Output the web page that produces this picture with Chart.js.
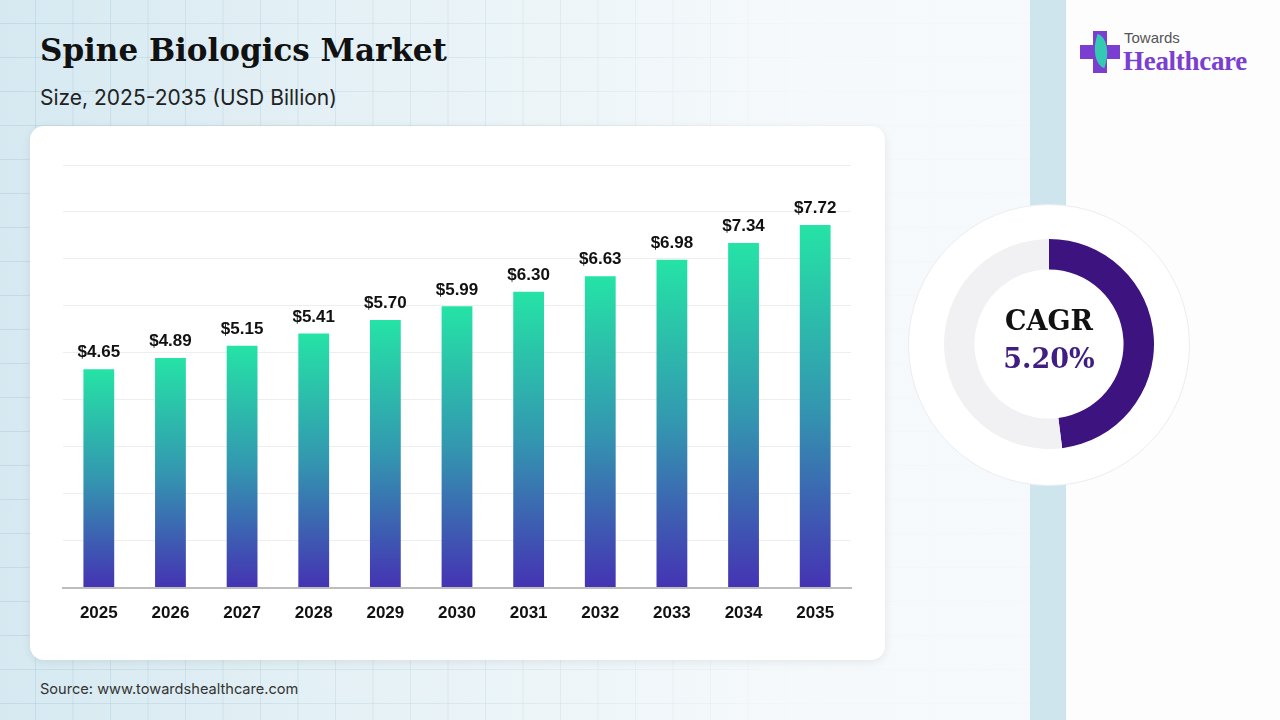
<!DOCTYPE html>
<html>
<head>
<meta charset="utf-8">
<script src="https://cdn.jsdelivr.net/npm/chart.js@4.4.1/dist/chart.umd.min.js"></script>
<style>
  html, body { margin: 0; padding: 0; }
  body {
    width: 1280px; height: 720px; overflow: hidden; position: relative;
    background: linear-gradient(90deg, #d6e9f1 0%, #e9f3f7 35%, #f5f9fb 60%, #f7fafc 100%);
    font-family: "Inter", "Liberation Sans", sans-serif;
  }
  .grid {
    position: absolute; left: 0; top: 0; width: 1030px; height: 720px;
    background-image:
      linear-gradient(90deg, rgba(160,195,212,0.35) 1px, transparent 1px),
      linear-gradient(0deg, rgba(160,195,212,0.35) 1px, transparent 1px);
    background-size: 37.5px 34px;
    background-position: 35px 24px;
    -webkit-mask-image: linear-gradient(90deg, #000 0%, rgba(0,0,0,0.6) 50%, rgba(0,0,0,0.05) 80%);
  }
  .strip { position: absolute; left: 1030px; top: 0; width: 36px; height: 720px; background: #cfe5ed; }
  .side { position: absolute; left: 1066px; top: 0; width: 214px; height: 720px; background: #fdfdfe; }
  h1 {
    position: absolute; left: 40px; top: 32px; margin: 0;
    font-family: "DejaVu Serif", serif; font-weight: bold; font-size: 31px; color: #111;
  }
  .sub { position: absolute; left: 40px; top: 85px; font-size: 21px; color: #222; }
  .card {
    position: absolute; left: 30px; top: 126px; width: 855px; height: 534px;
    background: #fff; border-radius: 14px; box-shadow: 0 2px 10px rgba(0,0,0,0.08);
  }
  #bars { position: absolute; left: 0; top: 0; }
  .source { position: absolute; left: 40px; top: 680px; font-size: 14.6px; color: #333; }
  .ring {
    position: absolute; left: 908px; top: 204px; width: 280px; height: 280px;
    border-radius: 50%; background: #fff; border: 1px solid #e8eef2;
  }
  #cagr { position: absolute; left: 944px; top: 239px; }
  .cagr-text {
    position: absolute; left: 949px; top: 302px; width: 200px; text-align: center;
    font-family: "DejaVu Serif", serif; font-weight: bold; font-size: 27px; line-height: 38px;
  }
  .logo { position: absolute; left: 1080px; top: 28px; }
  .logo .t1 { position: absolute; left: 44px; top: 1px; font-size: 15px; color: #555; font-family: "Liberation Sans", sans-serif; }
  .logo .t2 { position: absolute; left: 43px; top: 18px; font-size: 27px; color: #7a3fd0; font-weight: bold; font-family: "Liberation Serif", serif; letter-spacing: -0.3px; }
  .cross-v { position: absolute; left: 13px; top: 3px; width: 14px; height: 42px; background: #7a3fd0; }
  .cross-h { position: absolute; left: 0; top: 17px; width: 40px; height: 14px; background: #7a3fd0; }
  .leaf { position: absolute; left: 12px; top: 8px; width: 18px; height: 30px; background: #2fd1b0;
    border-radius: 0 100% 0 100%; transform: rotate(20deg); opacity: 0.95; }
</style>
</head>
<body>
<div class="grid"></div>
<div class="strip"></div>
<div class="side"></div>

<h1>Spine Biologics Market</h1>
<div class="sub">Size, 2025-2035 (USD Billion)</div>

<div class="card"><canvas id="bars" width="855" height="534"></canvas></div>
<div class="source">Source: www.towardshealthcare.com</div>

<div class="ring"></div>
<canvas id="cagr" width="210" height="210"></canvas>
<div class="cagr-text"><div style="color:#111">CAGR</div><div style="color:#3f1d82">5.20%</div></div>

<div class="logo">
  <div class="cross-v"></div><div class="cross-h"></div><div class="leaf"></div>
  <div class="t1">Towards</div>
  <div class="t2">Healthcare</div>
</div>

<script>
const years = ["2025", "2026", "2027", "2028", "2029", "2030", "2031", "2032", "2033", "2034", "2035"];
const marketSize = [4.65, 4.89, 5.15, 5.41, 5.70, 5.99, 6.30, 6.63, 6.98, 7.34, 7.72];
const cagrShare = [48, 52];

const valueLabels = {
  id: "valueLabels",
  afterDatasetsDraw(chart) {
    const ctx = chart.ctx;
    ctx.save();
    ctx.font = "bold 17px 'Liberation Sans', Arial, sans-serif";
    ctx.fillStyle = "#111";
    ctx.textAlign = "center";
    ctx.textBaseline = "bottom";
    chart.getDatasetMeta(0).data.forEach((bar, i) => {
      ctx.fillText("$" + marketSize[i].toFixed(2), bar.x, bar.y - 8);
    });
    ctx.restore();
  }
};

// each bar gets its own gradient, green on top, purple at the base
function barGradient(context) {
  const chart = context.chart;
  const yScale = chart.scales.y;
  if (!chart.chartArea || !yScale || context.raw == null) return "#2bc9a8";
  const top = yScale.getPixelForValue(context.raw);
  const g = chart.ctx.createLinearGradient(0, chart.chartArea.bottom, 0, top);
  g.addColorStop(0, "#4533b3");
  g.addColorStop(0.5, "#3397b0");
  g.addColorStop(1, "#25e3a6");
  return g;
}

new Chart(document.getElementById("bars"), {
  type: "bar",
  data: {
    labels: years,
    datasets: [{
      data: marketSize,
      backgroundColor: barGradient,
      barPercentage: 0.43,
      categoryPercentage: 1
    }]
  },
  options: {
    responsive: false,
    animation: false,
    layout: { padding: { left: 33, right: 34, top: 39, bottom: 28 } },
    plugins: { legend: { display: false }, tooltip: { enabled: false } },
    scales: {
      x: {
        grid: { display: false },
        border: { color: "#bdbdbd", width: 2 },
        ticks: {
          color: "#111",
          padding: 8,
          font: { family: "'Liberation Sans', Arial, sans-serif", size: 17, weight: "bold" }
        }
      },
      y: {
        min: 0,
        max: 9,
        ticks: { display: false, stepSize: 1 },
        grid: { color: "#eeeeee", drawTicks: false },
        border: { display: false }
      }
    }
  },
  plugins: [valueLabels]
});

new Chart(document.getElementById("cagr"), {
  type: "doughnut",
  data: {
    labels: ["CAGR", "Rest"],
    datasets: [{
      data: cagrShare,
      backgroundColor: ["#3d1380", "#f1f1f3"],
      borderWidth: 0
    }]
  },
  options: {
    responsive: false,
    animation: false,
    cutout: "71%",
    plugins: { legend: { display: false }, tooltip: { enabled: false } }
  }
});
</script>
</body>
</html>
